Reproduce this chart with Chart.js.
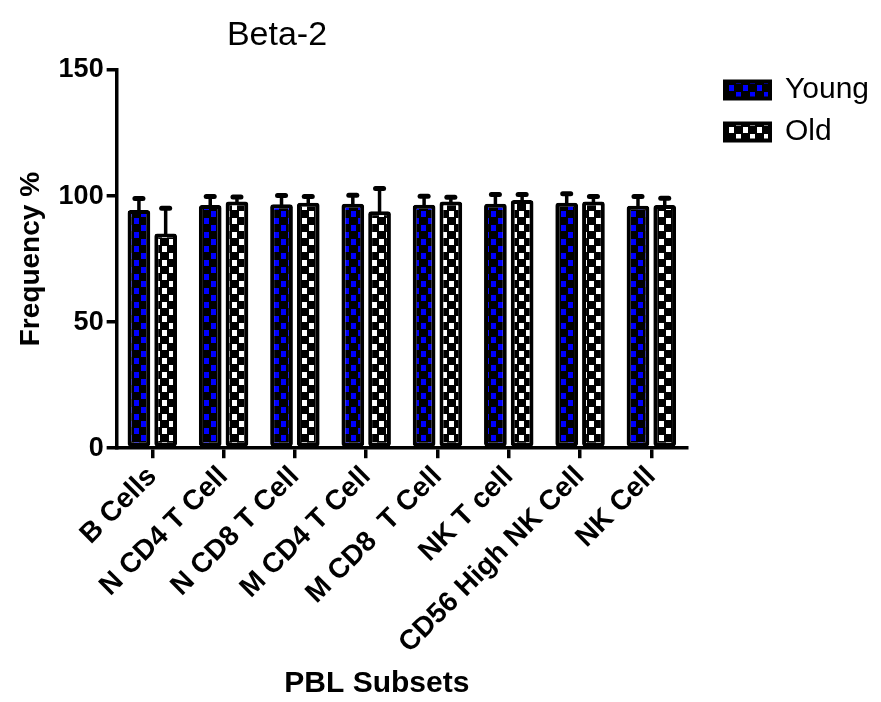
<!DOCTYPE html>
<html>
<head>
<meta charset="utf-8">
<script src="https://cdn.jsdelivr.net/npm/chart.js@4/dist/chart.umd.min.js"></script>
<style>
  html, body { margin: 0; padding: 0; background: #fff; }
  #wrap { width: 881px; height: 702px; }
</style>
</head>
<body>
<div id="wrap"><canvas id="c" width="881" height="702"></canvas></div>
<script>
// Beta-2 expression across PBL subsets (mean + upper SEM)
const categories = ['B Cells', 'N CD4 T Cell', 'N CD8 T Cell', 'M CD4 T Cell',
                    'M CD8  T Cell', 'NK T cell', 'CD56 High NK Cell', 'NK Cell'];
const youngValues = [94.5, 96.5, 96.8, 97, 96.6, 97, 97.4, 96.2];
const youngErrors = [4.5, 3.3, 3.4, 3.3, 3.3, 3.6, 3.5, 3.6];
const oldValues   = [85.2, 97.8, 97.4, 94, 97.8, 98.4, 97.8, 96.5];
const oldErrors   = [10, 1.8, 2.4, 9, 1.7, 2.2, 2.0, 2.6];
const yTicks = [0, 50, 100, 150];

const FONT = '"Liberation Sans", Arial, sans-serif';

// checkered fill: black ground with coloured squares in two staggered columns
function checker(color) {
  const t = document.createElement('canvas');
  t.width = 14; t.height = 14;
  const g = t.getContext('2d');
  g.fillStyle = '#000';
  g.fillRect(0, 0, 14, 14);
  g.fillStyle = color;
  g.fillRect(1, 1, 5, 6);
  g.fillRect(8, 8, 5, 6);
  return g.createPattern(t, 'repeat');
}
const ctx = document.getElementById('c').getContext('2d');
const youngFill = checker('#0000ff');
const oldFill = checker('#ffffff');

// upward error bars with a rounded cap
const errorBars = {
  id: 'errorBars',
  afterDatasetsDraw(chart) {
    const g = chart.ctx;
    const yScale = chart.scales.y;
    const errs = [youngErrors, oldErrors];
    chart.data.datasets.forEach((ds, di) => {
      const meta = chart.getDatasetMeta(di);
      meta.data.forEach((bar, i) => {
        const top = yScale.getPixelForValue(ds.data[i] + errs[di][i]);
        g.save();
        g.strokeStyle = '#000';
        g.lineWidth = 3.5;
        g.beginPath();
        g.moveTo(bar.x, bar.y + 2);
        g.lineTo(bar.x, top);
        g.stroke();
        g.lineWidth = 5;
        g.lineCap = 'round';
        g.beginPath();
        g.moveTo(bar.x - 4, top);
        g.lineTo(bar.x + 4, top);
        g.stroke();
        g.restore();
      });
    });
  }
};

// chart heading
const heading = {
  id: 'heading',
  afterDraw(chart) {
    const g = chart.ctx;
    g.save();
    g.fillStyle = '#000';
    g.font = '34px ' + FONT;
    g.textAlign = 'center';
    g.textBaseline = 'alphabetic';
    g.fillText('Beta-2', 277, 45);
    g.restore();
  }
};

new Chart(ctx, {
  type: 'bar',
  data: {
    labels: categories,
    datasets: [
      { label: 'Young', data: youngValues, backgroundColor: youngFill,
        borderColor: '#000', borderWidth: 4, borderRadius: 3, borderSkipped: false },
      { label: 'Old', data: oldValues, backgroundColor: oldFill,
        borderColor: '#000', borderWidth: 4, borderRadius: 3, borderSkipped: false }
    ]
  },
  options: {
    responsive: false,
    animation: false,
    layout: { padding: { top: 70, right: 2, left: 14, bottom: 0 } },
    datasets: { bar: { categoryPercentage: 0.75, barPercentage: 0.85 } },
    plugins: {
      title: { display: false },
      tooltip: { enabled: false },
      legend: {
        position: 'right',
        align: 'start',
        // empty heading row with negative padding lifts the entries slightly
        title: { display: true, text: ' ', font: { size: 10 },
                 padding: { top: -10, bottom: -9 } },
        labels: {
          color: '#000',
          font: { family: FONT, size: 30 },
          boxWidth: 45,
          boxHeight: 17,
          padding: 12
        }
      }
    },
    scales: {
      x: {
        grid: { display: true, drawOnChartArea: false, offset: false,
                color: '#000', lineWidth: 3.5, tickLength: 10 },
        border: { color: '#000', width: 3.5 },
        ticks: {
          color: '#000',
          font: { family: FONT, size: 28, weight: 'bold' },
          minRotation: 45, maxRotation: 45, autoSkip: false, padding: 2
        },
        title: {
          display: true, text: 'PBL Subsets      ', color: '#000',
          font: { family: FONT, size: 30, weight: 'bold' },
          padding: { top: 4, bottom: 0 }
        }
      },
      y: {
        min: 0, max: 150,
        afterBuildTicks(scale) { scale.ticks = yTicks.map(v => ({ value: v })); },
        grid: { display: true, drawOnChartArea: false,
                color: '#000', lineWidth: 3.5, tickLength: 10 },
        border: { color: '#000', width: 3.5 },
        ticks: {
          color: '#000',
          font: { family: FONT, size: 27, weight: 'bold' },
          padding: 3
        },
        title: {
          display: true, text: 'Frequency %', color: '#000',
          font: { family: FONT, size: 28, weight: 'bold' },
          padding: { top: 0, bottom: 8 }
        }
      },
      // hidden right-hand spacer between the plot and the legend
      gap: {
        type: 'linear', position: 'right', display: false,
        afterFit(scale) { scale.width = 26; }
      }
    }
  },
  plugins: [errorBars, heading]
});
</script>
</body>
</html>
